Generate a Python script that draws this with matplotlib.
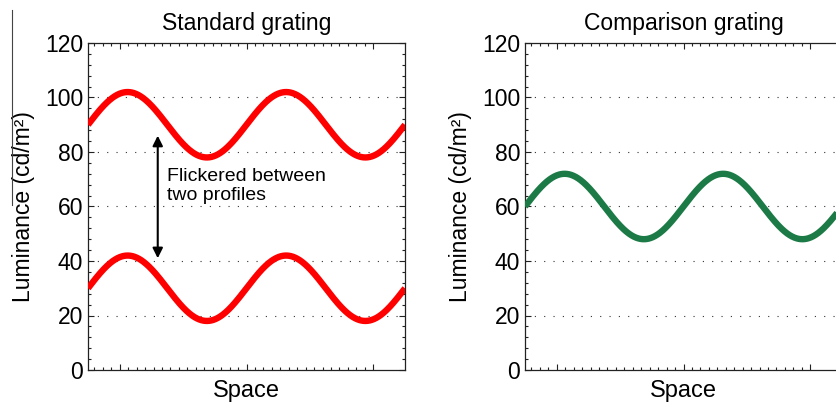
import numpy as np
import matplotlib
matplotlib.use("Agg")
import matplotlib.pyplot as plt
from matplotlib.ticker import FixedLocator, NullFormatter
from matplotlib.lines import Line2D

plt.rcParams['font.family'] = ['Liberation Sans', 'DejaVu Sans']

# ---- data ----
titles = ["Standard grating", "Comparison grating"]
x_label = "Space"
y_label = "Luminance (cd/m\u00b2)"
y_ticks = [0, 20, 40, 60, 80, 100, 120]
x_cycles = 2.0                       # number of grating cycles shown
standard_means = [90, 30]            # two flickered profiles
standard_amp = 12
comparison_mean = 60
comparison_amp = 12
annotation = "Flickered between\ntwo profiles"
arrow_top, arrow_bottom = 86, 41
arrow_x = 0.44

red = "#ff0000"
green = "#1b7a45"

W, H = 836, 405
fig = plt.figure(figsize=(W / 100, H / 100), dpi=100)

def px_axes(x0, y0, x1, y1):
    return fig.add_axes([x0 / W, 1 - y1 / H, (x1 - x0) / W, (y1 - y0) / H])

ax1 = px_axes(88, 43, 405, 370)
ax2 = px_axes(525, 43, 842, 370)

x = np.linspace(0, x_cycles, 800)

for m in standard_means:
    ax1.plot(x, m + standard_amp * np.sin(2 * np.pi * x), color=red, lw=4.6,
             solid_capstyle='butt', zorder=3)
ax2.plot(x, comparison_mean + comparison_amp * np.sin(2 * np.pi * x),
         color=green, lw=4.6, solid_capstyle='butt', zorder=3)

major_x = [0.2, 1.0, 1.8]
step = 0.8 / 15
minor_x = [0.2 + k * step for k in range(-3, 31) if 0 < 0.2 + k * step < x_cycles]

for ax, t in zip([ax1, ax2], titles):
    ax.set_xlim(0, x_cycles)
    ax.set_ylim(0, 120)
    ax.set_yticks(y_ticks)
    ax.yaxis.set_minor_locator(FixedLocator(np.arange(0, 121, 4)))
    ax.xaxis.set_major_locator(FixedLocator(major_x))
    ax.xaxis.set_minor_locator(FixedLocator(minor_x))
    ax.xaxis.set_major_formatter(NullFormatter())
    ax.tick_params(which='both', direction='in', top=True, right=True,
                   labelsize=16.5, width=0.8, color='#222222')
    ax.tick_params(which='major', length=4)
    ax.tick_params(which='minor', length=2)
    for s in ax.spines.values():
        s.set_linewidth(0.9)
        s.set_color('#222222')
    for yv in y_ticks[1:-1]:
        ax.axhline(yv, color='#333333', lw=0.8, linestyle=(0, (1, 7.4)), zorder=1)
    ax.set_title(t, fontsize=16.5, pad=9)
    ax.set_xlabel(x_label, fontsize=17, labelpad=4)
    ax.set_ylabel(y_label, fontsize=16.5, labelpad=7)

ax1.annotate("", xy=(arrow_x, arrow_top), xytext=(arrow_x, arrow_bottom),
             arrowprops=dict(arrowstyle='<|-|>', color='black', lw=1.5,
                             mutation_scale=15, shrinkA=0, shrinkB=0), zorder=4)
ax1.text(0.5, 67.5, annotation, fontsize=14, va='center', ha='left',
         linespacing=1.15, zorder=4)

fig.add_artist(Line2D([12 / W, 12 / W], [1 - 10 / H, 1 - 205 / H],
                      color='#444444', lw=0.8))

fig.savefig("out.png", dpi=100)
